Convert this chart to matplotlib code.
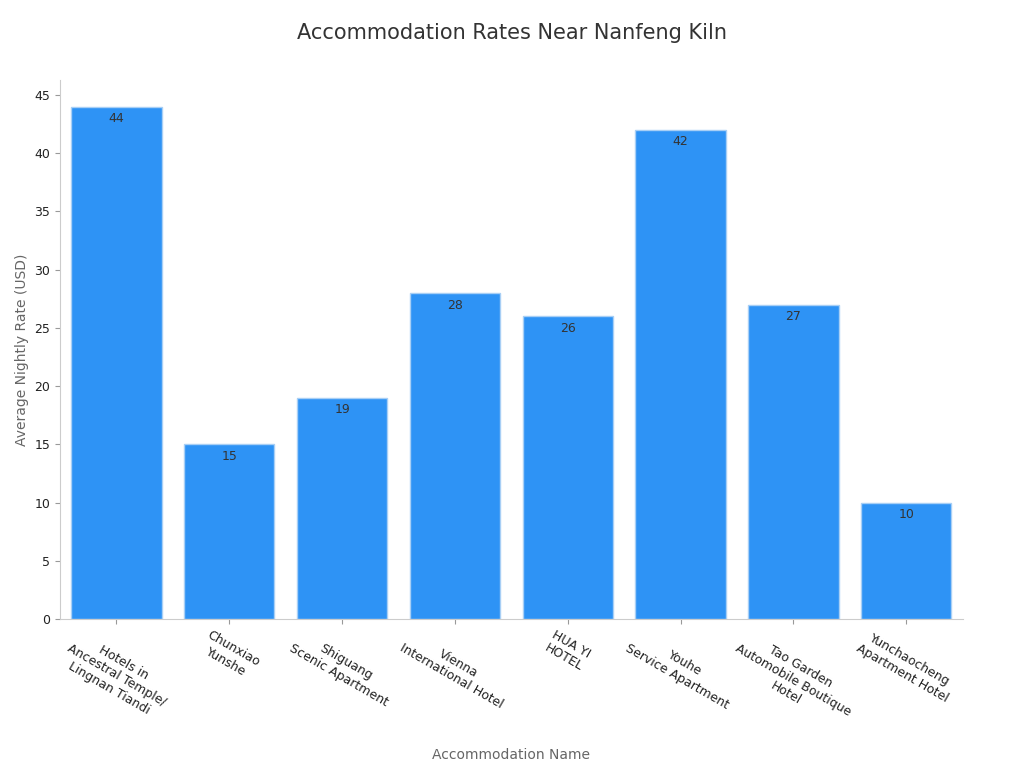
import matplotlib
matplotlib.use("Agg")
import matplotlib.pyplot as plt

names = ["Hotels in\nAncestral Temple/\nLingnan Tiandi", "Chunxiao\nYunshe", "Shiguang\nScenic Apartment",
         "Vienna\nInternational Hotel", "HUA YI\nHOTEL", "Youhe\nService Apartment",
         "Tao Garden\nAutomobile Boutique\nHotel", "Yunchaocheng\nApartment Hotel"]
rates = [44, 15, 19, 28, 26, 42, 27, 10]

fig = plt.figure(figsize=(10.24, 7.68), dpi=100)
ax = fig.add_axes([0.0586, 0.194, 0.8815, 0.702])

x = range(len(names))
ax.bar(x, rates, width=0.8, color="#2E93F5", edgecolor="#A8CFF5", linewidth=1)
for i, v in zip(x, rates):
    ax.annotate(str(v), (i, v), xytext=(0, -4), textcoords="offset points",
                ha="center", va="top", fontsize=9, color="#333333")

ax.set_xlim(-0.5, 7.5)
ax.set_ylim(0, 46.3)
ax.set_yticks(range(0, 46, 5))
ax.set_xticks(list(x))
ax.set_xticklabels(names, rotation=-30, ha="center", va="top", rotation_mode="default",
                   fontsize=9, color="#222222")
ax.tick_params(axis="y", labelsize=9, colors="#222222")
ax.tick_params(color="#999999")
for s in ["top", "right"]:
    ax.spines[s].set_visible(False)
for s in ["left", "bottom"]:
    ax.spines[s].set_color("#CCCCCC")

ax.set_ylabel("Average Nightly Rate (USD)", fontsize=10, color="#666666")
ax.set_xlabel("Accommodation Name", fontsize=10, color="#666666", labelpad=12)
fig.text(0.5, 0.957, "Accommodation Rates Near Nanfeng Kiln", ha="center", va="center",
         fontsize=15, color="#333333")

fig.savefig("out.png", dpi=100)
